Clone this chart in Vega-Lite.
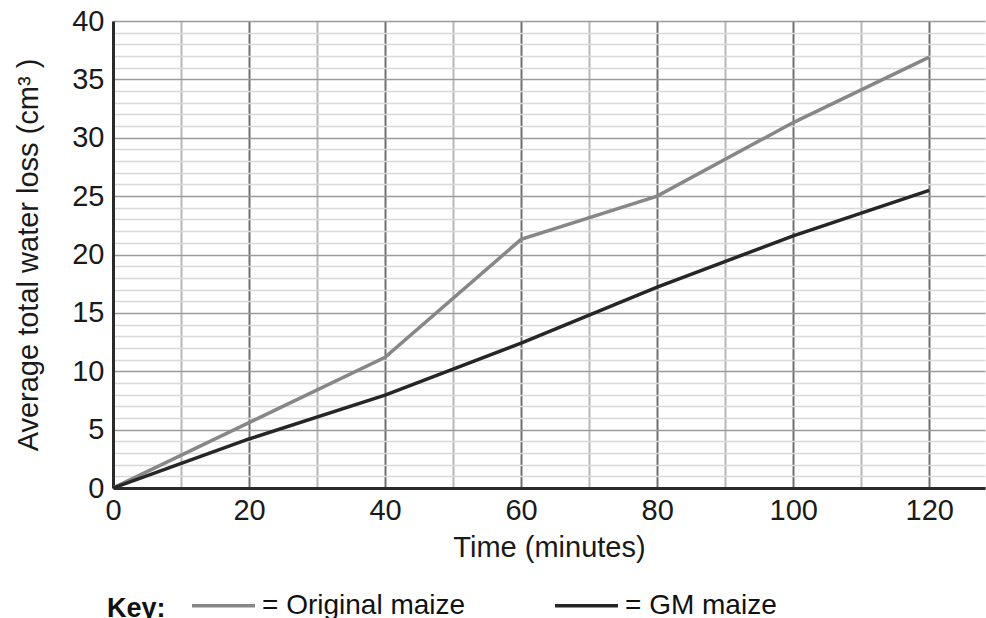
{
  "$schema": "https://vega.github.io/schema/vega-lite/v6.json",
  "width": 872,
  "height": 467,
  "autosize": {"type": "none"},
  "padding": {"left": 113, "top": 21, "right": 1, "bottom": 130},
  "background": "white",
  "config": {
    "font": "Liberation Sans",
    "view": {"stroke": null},
    "axis": {"labelFont": "Liberation Sans", "titleFont": "Liberation Sans"}
  },
  "data": {
    "values": [
      {"time": 0, "loss": 0, "series": "Original maize"},
      {"time": 20, "loss": 5.6, "series": "Original maize"},
      {"time": 40, "loss": 11.2, "series": "Original maize"},
      {"time": 60, "loss": 21.3, "series": "Original maize"},
      {"time": 80, "loss": 25.0, "series": "Original maize"},
      {"time": 100, "loss": 31.3, "series": "Original maize"},
      {"time": 120, "loss": 36.9, "series": "Original maize"},
      {"time": 0, "loss": 0, "series": "GM maize"},
      {"time": 20, "loss": 4.2, "series": "GM maize"},
      {"time": 40, "loss": 7.95, "series": "GM maize"},
      {"time": 60, "loss": 12.4, "series": "GM maize"},
      {"time": 80, "loss": 17.2, "series": "GM maize"},
      {"time": 100, "loss": 21.6, "series": "GM maize"},
      {"time": 120, "loss": 25.5, "series": "GM maize"}
    ]
  },
  "mark": {"type": "line", "strokeWidth": 3.5, "clip": true},
  "encoding": {
    "x": {
      "field": "time",
      "type": "quantitative",
      "scale": {"domain": [0, 128.2], "nice": false, "zero": false},
      "axis": {
        "title": "Time (minutes)",
        "values": [0, 10, 20, 30, 40, 50, 60, 70, 80, 90, 100, 110, 120],
        "labelExpr": "datum.value % 20 === 0 ? datum.label : ''",
        "labelFontSize": 29,
        "labelColor": "#1a1a1a",
        "labelPadding": 8,
        "labelFlush": false,
        "ticks": false,
        "domainColor": "#2a2a2a",
        "domainWidth": 3,
        "grid": true,
        "gridColor": {"condition": {"test": "datum.value % 20 === 0", "value": "#707070"}, "value": "#b8b8b8"},
        "gridWidth": 2,
        "gridOpacity": 1,
        "titleFontSize": 29,
        "titleFontWeight": "normal",
        "titleColor": "#1a1a1a",
        "titlePadding": 8
      }
    },
    "y": {
      "field": "loss",
      "type": "quantitative",
      "scale": {"domain": [0, 40], "nice": false},
      "axis": {
        "title": "Average total water loss (cm³ )",
        "values": [0,1,2,3,4,5,6,7,8,9,10,11,12,13,14,15,16,17,18,19,20,21,22,23,24,25,26,27,28,29,30,31,32,33,34,35,36,37,38,39,40],
        "labelExpr": "datum.value % 5 === 0 ? datum.label : ''",
        "labelFontSize": 29,
        "labelColor": "#1a1a1a",
        "labelPadding": 9,
        "labelFlush": false,
        "ticks": false,
        "domainColor": "#2a2a2a",
        "domainWidth": 3,
        "grid": true,
        "gridColor": {"condition": {"test": "datum.value % 5 === 0", "value": "#9a9a9a"}, "value": "#d8d8d8"},
        "gridWidth": 1.6,
        "gridOpacity": 1,
        "titleFontSize": 29,
        "titleFontWeight": "normal",
        "titleColor": "#1a1a1a",
        "titlePadding": 28
      }
    },
    "color": {
      "field": "series",
      "type": "nominal",
      "scale": {"domain": ["Original maize", "GM maize"], "range": ["#878787", "#262626"]},
      "legend": {
        "title": "Key:",
        "titleOrient": "left",
        "titleBaseline": "line-top",
        "titleLineHeight": 27,
        "titleFontSize": 27,
        "titleFontWeight": "bold",
        "titleColor": "#111",
        "titlePadding": 24,
        "orient": "none",
        "legendX": -6,
        "legendY": 551,
        "padding": 0,
        "direction": "horizontal",
        "columns": 2,
        "columnPadding": 82,
        "symbolType": "stroke",
        "symbolSize": 3969,
        "symbolStrokeWidth": 3.5,
        "labelExpr": "'= ' + datum.label",
        "labelFontSize": 28,
        "labelColor": "#111",
        "labelOffset": 5,
        "labelLimit": 400
      }
    }
  }
}
